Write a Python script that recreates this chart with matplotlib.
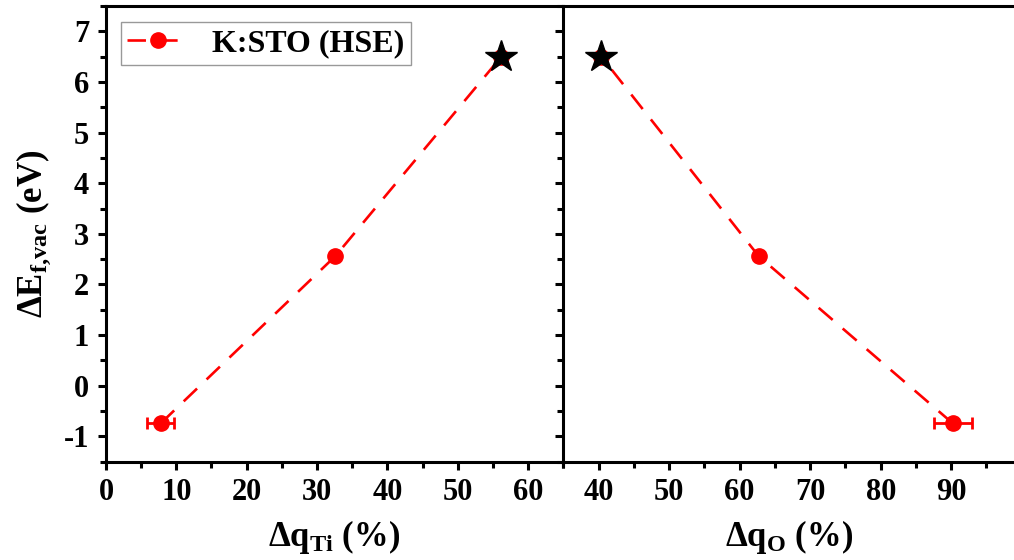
import matplotlib
matplotlib.use('Agg')
import matplotlib.pyplot as plt
from matplotlib.ticker import MultipleLocator

# data
dq_ti = [7.8, 32.6, 56.2]
dq_o = [90.2, 62.7, 40.4]
de_vac = [-0.74, 2.56, 6.5]
dq_ti_err = [1.9]
dq_o_err = [2.7]
star_ti = [56.2]
star_o = [40.4]
star_e = [6.5]

plt.rcParams['font.family'] = ['Liberation Serif', 'DejaVu Serif']
plt.rcParams['font.weight'] = 'bold'
plt.rcParams['axes.unicode_minus'] = False
plt.rcParams['mathtext.fontset'] = 'custom'
plt.rcParams['mathtext.rm'] = 'Liberation Serif:bold'
plt.rcParams['mathtext.bf'] = 'Liberation Serif:bold'
plt.rcParams['mathtext.it'] = 'Liberation Serif:bold'
plt.rcParams['mathtext.default'] = 'bf'

fig = plt.figure(figsize=(10.14, 5.6), dpi=100)
ax1 = fig.add_axes([0.1045, 0.1755, 0.451, 0.8138])
ax2 = fig.add_axes([0.5555, 0.1755, 0.4445, 0.8138])

line_kw = dict(color='red', ls=(0, (7, 5)), lw=1.9, marker='o', ms=11)
err_kw = dict(fmt='none', ecolor='red', elinewidth=2, capsize=4, capthick=2)

ax1.plot(dq_ti, de_vac, label='K:STO (HSE)', **line_kw)
ax1.errorbar(dq_ti[:1], de_vac[:1], xerr=dq_ti_err, **err_kw)
ax1.plot(star_ti, star_e, marker='*', color='black', ms=24, ls='none', zorder=5)
ax2.plot(dq_o, de_vac, **line_kw)
ax2.errorbar(dq_o[:1], de_vac[:1], xerr=dq_o_err, **err_kw)
ax2.plot(star_o, star_e, marker='*', color='black', ms=24, ls='none', zorder=5)

ax1.set_xlim(0, 65)
ax2.set_xlim(35, 98.9)
for ax in (ax1, ax2):
    ax.set_ylim(-1.5, 7.5)
    ax.xaxis.set_major_locator(MultipleLocator(10))
    ax.xaxis.set_minor_locator(MultipleLocator(5))
    ax.yaxis.set_major_locator(MultipleLocator(1))
    ax.yaxis.set_minor_locator(MultipleLocator(0.5))
    for s in ax.spines.values():
        s.set_linewidth(2.2)
    ax.tick_params(which='major', direction='out', length=6, width=2.2,
                   labelsize=22, pad=6)
    ax.tick_params(which='minor', direction='out', length=4, width=2.2)
    ax.tick_params(which='both', top=False, right=False)

ax1.spines['right'].set_visible(False)
ax2.spines['right'].set_visible(False)
ax2.tick_params(axis='y', which='both', labelleft=False)

ax1.set_ylabel(r'ΔE$_{f{,}vac}$ (eV)', fontsize=25, fontweight='bold', labelpad=8)
ax1.set_xlabel(r'Δq$_{Ti}$ (%)', fontsize=25, fontweight='bold', labelpad=8)
ax2.set_xlabel(r'Δq$_{O}$ (%)', fontsize=25, fontweight='bold', labelpad=8)

leg = ax1.legend(loc='upper left', fontsize=23, frameon=True, fancybox=False,
                 edgecolor='gray', borderpad=0.2, handlelength=1.9,
                 handletextpad=0.75, borderaxespad=0.3,
                 bbox_to_anchor=(0.012, 0.985))
leg.get_frame().set_linewidth(1.0)

fig.savefig('out.png', dpi=100)
